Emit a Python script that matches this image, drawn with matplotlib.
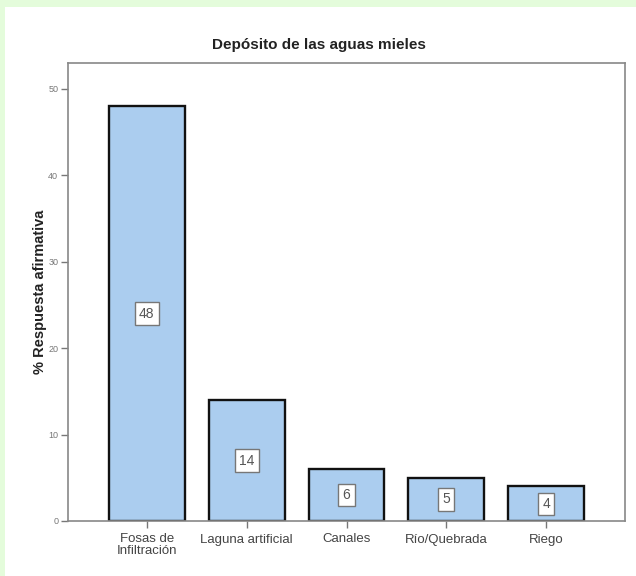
import matplotlib
matplotlib.use("Agg")
import matplotlib.pyplot as plt
from matplotlib.patches import Rectangle

plt.rcParams['font.family'] = ['Liberation Sans', 'DejaVu Sans']

categories = ["Fosas de\nInfiltración", "Laguna artificial", "Canales", "Río/Quebrada", "Riego"]
values = [48, 14, 6, 5, 4]
yticks = [0, 10, 20, 30, 40, 50]

fig = plt.figure(figsize=(6.36, 5.76), dpi=100)
fig.patch.set_facecolor("white")

# light green margin along the top and left edges
fig.add_artist(Rectangle((0, 1 - 7 / 576), 1, 7 / 576, transform=fig.transFigure,
                         facecolor="#e4fcdb", edgecolor="none", zorder=0))
fig.add_artist(Rectangle((0, 0), 5 / 636, 1, transform=fig.transFigure,
                         facecolor="#e4fcdb", edgecolor="none", zorder=0))

ax = fig.add_axes([68 / 636, 1 - 521 / 576, (625 - 68) / 636, (521 - 63) / 576])
x = list(range(len(categories)))
ax.bar(x, values, width=0.76, color="#abcdef", edgecolor="#111111", linewidth=1.7, zorder=2)

for xi, v in zip(x, values):
    ax.text(xi, v / 2, f"{v:d}", ha="center", va="center", fontsize=10, color="#555555",
            bbox=dict(boxstyle="square,pad=0.3", facecolor="white", edgecolor="#777777", linewidth=1.0),
            zorder=3)

ax.set_xlim(-0.79, 4.79)
ax.set_ylim(0, 53)
ax.set_yticks(yticks)
ax.set_yticklabels([str(t) for t in yticks], fontsize=6.5, color="#777777")
ax.set_xticks(x)
ax.set_xticklabels(categories, fontsize=9.5, color="#444444", linespacing=0.9)
ax.tick_params(axis="both", direction="out", length=5, width=1, color="#777777")
ax.tick_params(axis="y", pad=2)
ax.tick_params(axis="x", pad=4)

for side, sp in ax.spines.items():
    sp.set_color("#888888")
    sp.set_linewidth(1.2)

ax.set_ylabel("% Respuesta afirmativa", fontsize=10.5, fontweight="bold", color="#222222")
ax.yaxis.set_label_coords(-0.038, 0.5)
fig.text(319 / 636, 1 - 45 / 576, "Depósito de las aguas mieles", fontsize=11, fontweight="bold",
         color="#222222", ha="center", va="center")

fig.savefig("out.png", dpi=100)
